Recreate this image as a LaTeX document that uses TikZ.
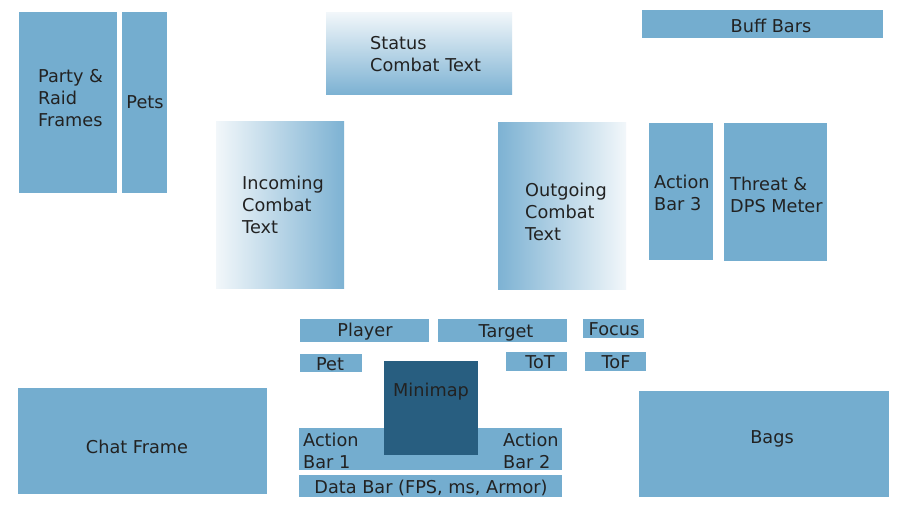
\documentclass[tikz,border=0pt]{standalone}
\usepackage{fontspec}
\setmainfont{DejaVu Sans}
\definecolor{boxblue}{HTML}{74ADCF}
\definecolor{mapblue}{HTML}{285E80}
\definecolor{txt}{HTML}{222222}
\definecolor{gradlight}{HTML}{F2F7FA}
\definecolor{graddark}{HTML}{7DB2D3}
\begin{document}
\begin{tikzpicture}[x=1pt,y=-1pt,
  box/.style={fill=boxblue,draw=none,inner sep=0pt,outer sep=0pt,anchor=north west},
  mapbox/.style={fill=mapblue,draw=none,inner sep=0pt,outer sep=0pt,anchor=north west},
  lbl/.style={text=txt,inner sep=0pt,yshift=-1.5pt,font=\fontsize{17.7}{22}\selectfont},
  lbll/.style={lbl,align=left,anchor=west}]
\useasboundingbox[fill=white] (0,0) rectangle (900,506);
% boxes
\node[box,minimum width=98pt,minimum height=181pt] (party) at (19,12) {};
\node[box,minimum width=45pt,minimum height=181pt] (pets) at (122,12) {};
\node[box,draw=none,top color=gradlight,bottom color=graddark,minimum width=186pt,minimum height=82pt] (status) at (326,12) {};
\node[box,draw=none,left color=gradlight,right color=graddark,minimum width=128pt,minimum height=167pt] (incoming) at (216,121) {};
\node[box,draw=none,left color=graddark,right color=gradlight,minimum width=128pt,minimum height=167pt] (outgoing) at (498,122) {};
\node[box,minimum width=241pt,minimum height=28pt] (buff) at (642,10) {};
\node[box,minimum width=64pt,minimum height=137pt] (ab3) at (649,123) {};
\node[box,minimum width=103pt,minimum height=138pt] (threat) at (724,123) {};
\node[box,minimum width=129pt,minimum height=23pt] (player) at (300,319) {};
\node[box,minimum width=129pt,minimum height=23pt] (target) at (438,319) {};
\node[box,minimum width=61pt,minimum height=19pt] (focus) at (583,319) {};
\node[box,minimum width=62pt,minimum height=18pt] (pet) at (300,354) {};
\node[box,minimum width=61pt,minimum height=19pt] (tot) at (506,352) {};
\node[box,minimum width=61pt,minimum height=19pt] (tof) at (585,352) {};
\node[box,minimum width=263pt,minimum height=42pt] (abar) at (299,428) {};
\node[mapbox,minimum width=94pt,minimum height=94pt] (minimap) at (384,361) {};
\node[box,minimum width=263pt,minimum height=22pt] (data) at (299,475) {};
\node[box,minimum width=249pt,minimum height=106pt] (chat) at (18,388) {};
\node[box,minimum width=250pt,minimum height=106pt] (bags) at (639,391) {};
% labels
\node[lbll] (partyT) at (38,97) {Party \&\\Raid\\Frames};
\node[lbl] (petsT) at (145,101) {Pets};
\node[lbll] (statusT) at (370,53) {Status\\Combat Text};
\node[lbll] (incomingT) at (242,203) {Incoming\\Combat\\Text};
\node[lbll] (outgoingT) at (525,210) {Outgoing\\Combat\\Text};
\node[lbl] (buffT) at (771,24) {Buff Bars};
\node[lbll] (ab3T) at (654,191) {Action\\Bar 3};
\node[lbll] (threatT) at (730,193) {Threat \&\\DPS Meter};
\node[lbl] (playerT) at (365,330) {Player};
\node[lbl] (targetT) at (506,331) {Target};
\node[lbl] (focusT) at (614,328) {Focus};
\node[lbl] (petT) at (330,363) {Pet};
\node[lbl] (totT) at (540,361) {ToT};
\node[lbl] (tofT) at (616,361) {ToF};
\node[lbl] (minimapT) at (431,390) {Minimap};
\node[lbll] (ab1T) at (303,449) {Action\\Bar 1};
\node[lbll] (ab2T) at (503,449) {Action\\Bar 2};
\node[lbl] (dataT) at (431,486) {Data Bar (FPS, ms, Armor)};
\node[lbl] (chatT) at (137,445) {Chat Frame};
\node[lbl] (bagsT) at (772,437) {Bags};
\end{tikzpicture}
\end{document}
